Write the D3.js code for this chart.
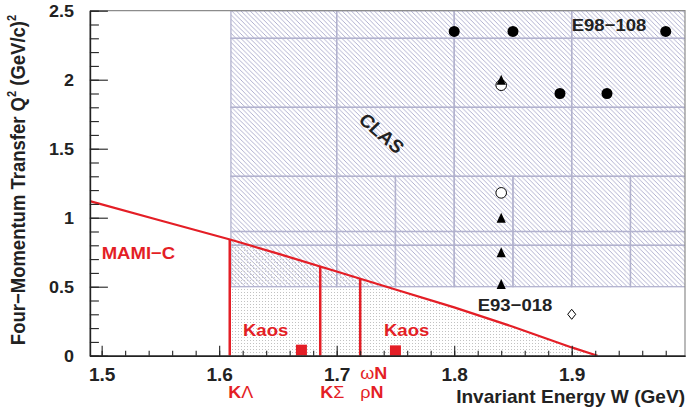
<!DOCTYPE html>
<html>
<head>
<meta charset="utf-8">
<script src="https://cdn.jsdelivr.net/npm/d3@7"></script>
<style>
  html, body { margin: 0; padding: 0; background: #fff; }
  svg { display: block; font-family: "Liberation Sans", Arial, Helvetica, sans-serif; font-weight: bold; }
</style>
</head>
<body>
<svg id="chart" width="686" height="412"></svg>
<script>
// ---- Kinematic coverage: invariant energy W (GeV) vs. Q^2 (GeV/c)^2 ----

// Axis tick labels
const wMajorTicks = [1.5, 1.6, 1.7, 1.8, 1.9];
const qMajorTicks = [0, 0.5, 1, 1.5, 2, 2.5];

// CLAS acceptance bins: Q^2 row edges and W column edges
const clasUpperQ = [1.3, 1.8, 2.3, 2.5];
const clasUpperW = [1.61, 1.7, 1.8, 1.9, 2.0];
const clasLowerQ = [0.5, 0.8, 0.9, 1.3];
const clasLowerW = [1.61, 1.7, 1.75, 1.8, 1.85, 1.9, 1.95, 2.0];

// MAMI-C kinematic limit
const mamiW  = [1.49, 1.55, 1.61, 1.65, 1.70, 1.75, 1.80, 1.85, 1.90, 1.922];
const mamiQ2 = [1.12, 0.98, 0.84, 0.74, 0.61, 0.48, 0.35, 0.21, 0.06, 0.0];

// Production thresholds
const thresholdW = [1.609, 1.686, 1.720];

// E98-108 points (filled circles)
const e98W  = [1.80, 1.85, 1.98, 1.89, 1.93];
const e98Q2 = [2.35, 2.35, 2.35, 1.90, 1.90];

// E93-018 points
const triW  = [1.84, 1.84, 1.84, 1.84];
const triQ2 = [2.0, 1.0, 0.75, 0.52];
const openCircW  = [1.84, 1.84];
const openCircQ2 = [1.96, 1.18];
const diamondW  = [1.90];
const diamondQ2 = [0.30];

// Kaos measurements
const kaosW  = [1.67, 1.75];
const kaosQ2 = [0.04, 0.035];

const RED = "#e41e26";
const SX = 1.09;   // horizontal glyph stretch

const svg = d3.select("#chart");
const x = d3.scaleLinear().domain([1.49, 1.9964]).range([89.9, 685]);
const y = d3.scaleLinear().domain([0, 2.5]).range([355.7, 10.7]);
const mami = d3.scaleLinear().domain(mamiW).range(mamiQ2);

const defs = svg.append("defs");
defs.append("clipPath").attr("id", "frame")
  .append("rect").attr("x", x.range()[0]).attr("y", y.range()[1])
  .attr("width", x.range()[1] - x.range()[0]).attr("height", y.range()[0] - y.range()[1]);

// Diagonal hatch ("\\\") for the CLAS bins
const hs = 4.6;
const hatch = defs.append("pattern").attr("id", "hatch")
  .attr("patternUnits", "userSpaceOnUse").attr("width", hs).attr("height", hs);
hatch.append("path")
  .attr("d", `M-1,-1L${hs + 1},${hs + 1}M-1,${hs - 1}L1,${hs + 1}M${hs - 1},-1L${hs + 1},1`)
  .attr("stroke", "#9898c0").attr("stroke-width", 0.75).attr("fill", "none");

const dots = defs.append("pattern").attr("id", "dots")
  .attr("patternUnits", "userSpaceOnUse").attr("width", 3).attr("height", 3);
dots.append("rect").attr("x", 1).attr("y", 1).attr("width", 1).attr("height", 1).attr("fill", "#c2c2c2");

const plot = svg.append("g").attr("clip-path", "url(#frame)");

// CLAS bins
function bins(qEdges, wEdges) {
  const out = [];
  for (let i = 0; i < qEdges.length - 1; i++)
    for (let j = 0; j < wEdges.length - 1; j++)
      out.push({q0: qEdges[i], q1: qEdges[i + 1], w0: wEdges[j], w1: wEdges[j + 1]});
  return out;
}
const clasBins = bins(clasUpperQ, clasUpperW).concat(bins(clasLowerQ, clasLowerW));

plot.selectAll("rect.clasfill").data(clasBins).join("rect").attr("class", "clasfill")
  .attr("x", d => x(d.w0)).attr("y", d => y(d.q1))
  .attr("width", d => x(d.w1) - x(d.w0)).attr("height", d => y(d.q0) - y(d.q1))
  .attr("fill", "url(#hatch)");

// Kaos region under the MAMI-C limit
const kaosArea = d3.area().x(d => x(d)).y0(y(0)).y1(d => y(mami(d)));
const areaW = [thresholdW[0]].concat(mamiW.filter(w => w > thresholdW[0]));
plot.append("path").datum(areaW).attr("d", kaosArea).attr("fill", "url(#dots)");

plot.selectAll("rect.clasedge").data(clasBins).join("rect").attr("class", "clasedge")
  .attr("x", d => x(d.w0)).attr("y", d => y(d.q1))
  .attr("width", d => x(d.w1) - x(d.w0)).attr("height", d => y(d.q0) - y(d.q1))
  .attr("fill", "none").attr("stroke", "#b2b2ce").attr("stroke-width", 1.3);

// MAMI-C limit
plot.append("path")
  .datum(mamiW.map((w, i) => [w, mamiQ2[i]]))
  .attr("d", d3.line().x(d => x(d[0])).y(d => y(d[1])))
  .attr("fill", "none").attr("stroke", RED).attr("stroke-width", 2.2);

// Threshold lines
plot.selectAll("line.thr").data(thresholdW).join("line").attr("class", "thr")
  .attr("x1", d => x(d)).attr("x2", d => x(d))
  .attr("y1", y(0)).attr("y2", d => y(mami(d)))
  .attr("stroke", RED).attr("stroke-width", 2.5);

// Kaos squares
plot.selectAll("rect.kaos").data(kaosW).join("rect").attr("class", "kaos")
  .attr("x", d => x(d) - 5.5).attr("y", (d, i) => y(kaosQ2[i]) - 5.5)
  .attr("width", 11).attr("height", 11).attr("fill", RED);

// Markers
plot.selectAll("circle.e98").data(e98W).join("circle").attr("class", "e98")
  .attr("cx", d => x(d)).attr("cy", (d, i) => y(e98Q2[i])).attr("r", 5.5).attr("fill", "#000");

plot.selectAll("circle.open").data(openCircW).join("circle").attr("class", "open")
  .attr("cx", d => x(d)).attr("cy", (d, i) => y(openCircQ2[i])).attr("r", 5.3)
  .attr("fill", "#fff").attr("stroke", "#000").attr("stroke-width", 1);

const triPath = "M0,-5 L4.6,5 L-4.6,5 Z";
plot.selectAll("path.tri").data(triW).join("path").attr("class", "tri")
  .attr("transform", (d, i) => `translate(${x(d)},${y(triQ2[i])})`)
  .attr("d", triPath).attr("fill", "#000");

const diaPath = "M0,-5 L4,0 L0,5 L-4,0 Z";
plot.selectAll("path.dia").data(diamondW).join("path").attr("class", "dia")
  .attr("transform", (d, i) => `translate(${x(d)},${y(diamondQ2[i])})`)
  .attr("d", diaPath).attr("fill", "#fff").attr("stroke", "#000").attr("stroke-width", 1);

// Frame (top and right)
svg.append("path")
  .attr("d", `M${x.range()[0]},${y.range()[1]}H${x.range()[1]}V${y.range()[0]}`)
  .attr("fill", "none").attr("stroke", "#8c8c8c").attr("stroke-width", 1.2);

// Axes
const axisColor = "#222";
const xAxis = svg.append("g").attr("transform", `translate(0,${y(0)})`);
xAxis.call(d3.axisBottom(x).tickValues(x.ticks(25)).tickSize(-5).tickSizeOuter(0).tickFormat(""));
xAxis.append("g").call(d3.axisBottom(x).tickValues(wMajorTicks).tickSize(-10).tickSizeOuter(0)
  .tickFormat(d3.format("~g")));
xAxis.selectAll("path.domain").attr("stroke", axisColor).attr("stroke-width", 1.4);
xAxis.selectAll(".tick line").attr("stroke", axisColor).attr("stroke-width", 1.1);
xAxis.selectAll(".tick text").attr("y", 25.3).attr("dy", null)
  .attr("font-size", 17.5).attr("font-weight", "bold").attr("fill", "#222")
  .attr("font-family", "Liberation Sans, Arial, sans-serif")
  .attr("transform", `scale(${SX},1)`);

const yAxis = svg.append("g").attr("transform", `translate(${x.range()[0]},0)`);
yAxis.call(d3.axisLeft(y).tickValues(y.ticks(25)).tickSize(-9).tickSizeOuter(0).tickFormat(""));
yAxis.append("g").call(d3.axisLeft(y).tickValues(qMajorTicks).tickSize(-18).tickSizeOuter(0)
  .tickFormat(d3.format("~g")));
yAxis.selectAll("path.domain").attr("stroke", axisColor).attr("stroke-width", 1.4);
yAxis.selectAll(".tick line").attr("stroke", axisColor).attr("stroke-width", 1.1);
yAxis.selectAll(".tick text").attr("x", -15.9 / SX).attr("dy", "0.36em")
  .attr("font-size", 16.5).attr("font-weight", "bold").attr("fill", "#222")
  .attr("font-family", "Liberation Sans, Arial, sans-serif")
  .attr("text-anchor", "end")
  .attr("transform", `scale(${SX},1)`);

// Text helper: stretched glyphs
function label(px, py, str, opts = {}) {
  const t = svg.append("text")
    .attr("transform", `translate(${px},${py}) scale(${SX},1)` + (opts.rotate ? ` rotate(${opts.rotate})` : ""))
    .attr("font-size", opts.size || 17)
    .attr("fill", opts.color || "#222")
    .attr("text-anchor", opts.anchor || "start");
  if (str) t.text(str);
  return t;
}

label(101.7, 259, "MAMI\u2212C", {color: RED});
label(243, 335.7, "Kaos", {color: RED});
label(384, 335.7, "Kaos", {color: RED});
label(571.7, 30.7, "E98\u2212108");
label(477.7, 310.7, "E93\u2212018");
label(381.7, 133.3, "CLAS", {rotate: 43, anchor: "middle", size: 18}).attr("dy", "0.35em");

// Threshold labels
function greekLabel(px, py, greek, latin, order) {
  const t = label(px, py, null, {color: RED, size: 16.5});
  const parts = order === "latinFirst" ? [[latin, "bold"], [greek, "normal"]] : [[greek, "normal"], [latin, "bold"]];
  parts.forEach(p => t.append("tspan").attr("font-weight", p[1]).text(p[0]));
  return t;
}
greekLabel(x(thresholdW[0]) - 1.5, 397.5, "\u039B", "K", "latinFirst");
greekLabel(x(thresholdW[1]), 397.5, "\u03A3", "K", "latinFirst");
greekLabel(x(thresholdW[2]), 379, "\u03C9", "N");
greekLabel(x(thresholdW[2]), 397.5, "\u03C1", "N");

// Axis titles
label(685, 403, "Invariant Energy W (GeV)", {anchor: "end", size: 17.5});

const yt = svg.append("text")
  .attr("transform", `translate(25,180) scale(${SX},1) rotate(-90)`)
  .attr("font-size", 18.5).attr("fill", "#222").attr("text-anchor", "middle");
yt.append("tspan").text("Four\u2212Momentum Transfer Q");
yt.append("tspan").attr("font-size", 11).attr("dy", -8).text("2");
yt.append("tspan").attr("dy", 8).text(" (GeV/c)");
yt.append("tspan").attr("font-size", 11).attr("dy", -8).text("2");
</script>
</body>
</html>
